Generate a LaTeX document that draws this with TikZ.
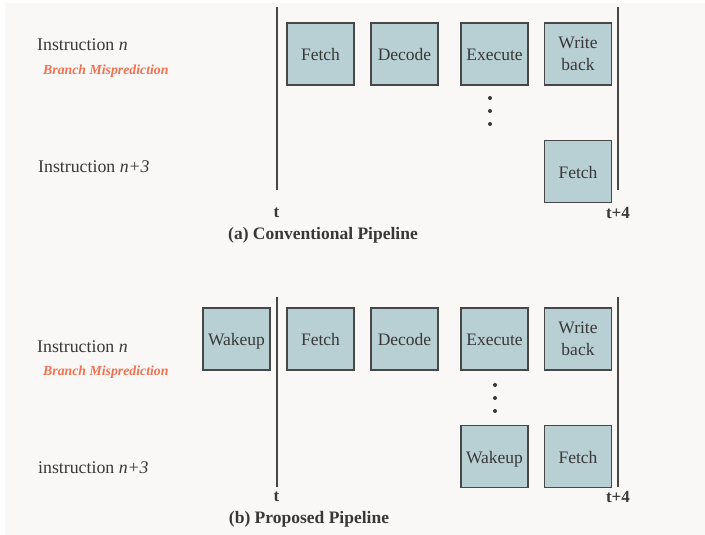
\documentclass[tikz,border=0pt]{standalone}
\usepackage{fontspec}
\setmainfont{Liberation Serif}
\usetikzlibrary{positioning}
\definecolor{mbg}{rgb}{0.976, 0.973, 0.969}
\definecolor{mbox}{rgb}{0.72, 0.81, 0.83}
\definecolor{mline}{rgb}{0.28, 0.28, 0.28}
\definecolor{mtext}{rgb}{0.22, 0.22, 0.22}
\definecolor{morange}{rgb}{0.94, 0.44, 0.31}

\tikzset{
  stage/.style={draw=mline, line width=1.2pt, fill=mbox, minimum width=67pt, minimum height=62pt,
    inner sep=0pt, align=center, text=mtext, font=\fontsize{17.5}{22}\selectfont},
  oneline/.style={text height=13pt, text depth=0pt},
  lbl/.style={anchor=west, inner sep=0pt, text=mtext, font=\fontsize{17.8}{20}\selectfont},
  mispred/.style={anchor=west, inner sep=0pt, text=morange, font=\fontsize{13.8}{15}\selectfont\bfseries\itshape},
  tick/.style={inner sep=0pt, text=mtext, font=\fontsize{17}{19}\selectfont\bfseries},
  caption/.style={inner sep=0pt, text=mtext, font=\fontsize{17.5}{19}\selectfont\bfseries},
  dot/.style={circle, fill=mtext, inner sep=0pt, minimum size=4pt},
  bar/.style={mline, line width=2pt}
}

\begin{document}
\begin{tikzpicture}[x=1pt, y=-1pt]
  \useasboundingbox (0, 0) rectangle (705, 535);
  \fill [mbg] (5, 3) rectangle (705, 535);

  % (a) conventional
  \node [lbl] (an) at (37, 45) {Instruction \textit{n}};
  \node [mispred] (abm) at (43, 71) {Branch Misprediction};
  \node [lbl] (an3) at (38, 167) {Instruction \textit{n+3}};

  \coordinate (atop) at (276.5, 7);
  \coordinate (abot) at (276.5, 190);
  \coordinate (a4top) at (617.5, 7);
  \coordinate (a4bot) at (617.5, 190);
  \draw [bar] (atop) -- (abot);
  \draw [bar] (a4top) -- (a4bot);

  \node [stage, oneline] (afetch) at (320.5, 54) {Fetch};
  \node [stage, oneline] (adecode) at (404.5, 54) {Decode};
  \node [stage, oneline] (aexec) at (494.5, 54) {Execute};
  \node [stage] (awb) at (578, 54) {Write\\back};
  \node [stage, oneline] (afetch2) at (578, 171.5) {Fetch};
  \foreach \y [count=\i] in {98, 111, 124}
    \node [dot] (adot\i) at (490, \y) {};

  \node [tick] (at) at (276.5, 213) {t};
  \node [tick] (at4) at (618, 213) {t+4};
  \node [caption] (acap) at (323, 235) {(a) Conventional Pipeline};

  % (b) proposed
  \node [lbl] (bn) at (37, 347) {Instruction \textit{n}};
  \node [mispred] (bbm) at (43, 372) {Branch Misprediction};
  \node [lbl] (bn3) at (38, 468) {instruction \textit{n+3}};

  \coordinate (btop) at (276.5, 297);
  \coordinate (bbot) at (276.5, 487);
  \coordinate (b4top) at (617.5, 297);
  \coordinate (b4bot) at (617.5, 487);
  \draw [bar] (btop) -- (bbot);
  \draw [bar] (b4top) -- (b4bot);

  \node [stage, oneline] (bwake) at (236.5, 339) {Wakeup};
  \node [stage, oneline] (bfetch) at (320.5, 339) {Fetch};
  \node [stage, oneline] (bdecode) at (404.5, 339) {Decode};
  \node [stage, oneline] (bexec) at (494.5, 339) {Execute};
  \node [stage] (bwb) at (578, 339) {Write\\back};
  \node [stage, oneline] (bwake2) at (494.5, 456.5) {Wakeup};
  \node [stage, oneline] (bfetch2) at (578, 456.5) {Fetch};
  \foreach \y [count=\i] in {385, 398, 411}
    \node [dot] (bdot\i) at (495, \y) {};

  \node [tick] (bt) at (276.5, 497) {t};
  \node [tick] (bt4) at (618, 497) {t+4};
  \node [caption] (bcap) at (309, 519) {(b) Proposed Pipeline};
\end{tikzpicture}
\end{document}
